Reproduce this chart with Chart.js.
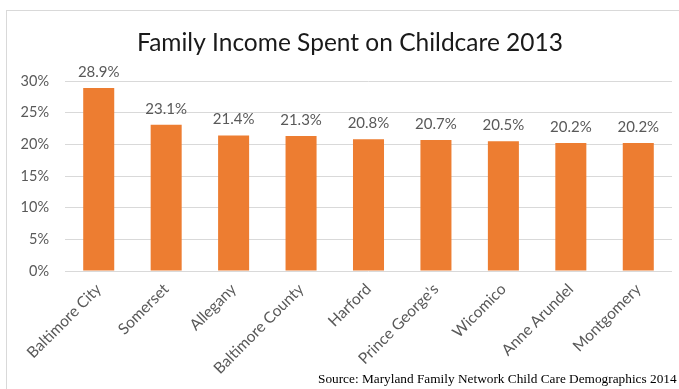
<!DOCTYPE html>
<html>
<head>
<meta charset="utf-8">
<script src="https://cdn.jsdelivr.net/npm/chart.js@4"></script>
<style>
    html, body { margin: 0; padding: 0; background: #fff; }
    #wrap { position: relative; width: 679px; height: 389px; overflow: hidden; }
    #frame { position: absolute; left: 6px; top: 10px; width: 700px; height: 400px;
             border-left: 1px solid #d9d9d9; border-top: 1px solid #d9d9d9; }
    #chart { position: absolute; left: 0; top: 0; }
    #source { position: absolute; left: 318px; top: 371px; font: 13.3px "Liberation Serif", "Times New Roman", serif;
              color: #000; white-space: nowrap; }
</style>
</head>
<body>
<div id="wrap">
    <div id="frame"></div>
    <canvas id="chart" width="679" height="389"></canvas>
    <div id="source">Source: Maryland Family Network Child Care Demographics 2014</div>
</div>
<script>
const counties = ['Baltimore City', 'Somerset', 'Allegany', 'Baltimore County', 'Harford',
    'Prince George’s', 'Wicomico', 'Anne Arundel', 'Montgomery'];
const incomeShare = [28.9, 23.1, 21.4, 21.3, 20.8, 20.7, 20.5, 20.2, 20.2];

const textColor = '#595959';
const gridColor = '#d9d9d9';

// Draw value labels above each bar
const barLabels = {
    id: 'barLabels',
    afterDatasetsDraw(chart) {
        const ctx = chart.ctx;
        const meta = chart.getDatasetMeta(0);
        ctx.save();
        ctx.font = '15px Lato';
        ctx.fillStyle = textColor;
        ctx.textAlign = 'center';
        ctx.textBaseline = 'alphabetic';
        meta.data.forEach((bar, i) => {
            ctx.fillText(incomeShare[i].toFixed(1) + '%', bar.x, bar.y - 11);
        });
        ctx.restore();
    }
};

// the left padding centres the title on the frame; let the y labels use that strip again
const yLabelRoom = {
    id: 'yLabelRoom',
    afterLayout(chart) { chart.scales.y.left = 0; }
};

new Chart(document.getElementById('chart').getContext('2d'), {
    type: 'bar',
    data: {
        labels: counties,
        datasets: [{
            data: incomeShare,
            backgroundColor: '#ED7D31',
            barPercentage: 0.46,
            categoryPercentage: 1
        }]
    },
    options: {
        responsive: false,
        animation: false,
        layout: { padding: { left: 28, right: 7, top: 0, bottom: 0 } },
        plugins: {
            legend: { display: false },
            tooltip: { enabled: false },
            title: {
                display: true,
                text: 'Family Income Spent on Childcare 2013',
                color: '#1a1a1a',
                font: { family: 'Lato', size: 24.5, weight: 'normal', lineHeight: 1.2 },
                padding: { top: 28, bottom: 23.6 }
            }
        },
        scales: {
            y: {
                min: 0,
                max: 30,
                border: { display: false },
                grid: { color: gridColor, drawTicks: false },
                ticks: {
                    stepSize: 5,
                    color: textColor,
                    padding: 16,
                    font: { family: 'Lato', size: 14.5 },
                    callback: v => v + '%'
                },
                afterFit(scale) { scale.width = 37; }
            },
            x: {
                border: { display: false },
                grid: { display: false, drawTicks: false },
                ticks: {
                    color: textColor,
                    minRotation: 45,
                    maxRotation: 45,
                    padding: 9,
                    autoSkip: false,
                    font: { family: 'Lato', size: 15.5 }
                },
                afterFit(scale) { scale.height = 118; }
            }
        }
    },
    plugins: [barLabels, yLabelRoom]
});
</script>
</body>
</html>
